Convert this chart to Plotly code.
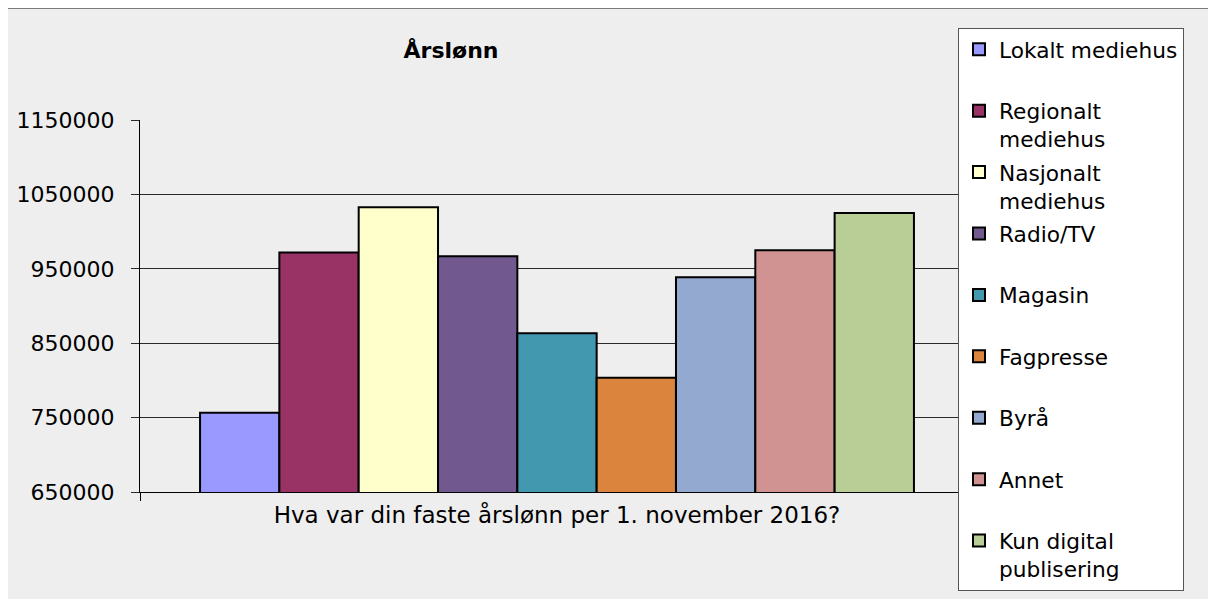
import plotly.graph_objects as go

question = "Hva var din faste årslønn per 1. november 2016?"
categories = ["Lokalt mediehus", "Regionalt<br>mediehus", "Nasjonalt<br>mediehus",
              "Radio/TV", "Magasin", "Fagpresse", "Byrå", "Annet",
              "Kun digital<br>publisering"]
values = [756600, 972000, 1032700, 966800, 863300, 803700, 938500, 974800, 1025000]
colors = ["#9999FF", "#993366", "#FFFFCC", "#71588F", "#4198AF", "#DB843D",
          "#93A9CF", "#D19392", "#B9CD96"]
y_ticks = [650000, 750000, 850000, 950000, 1050000, 1150000]

FONT = "DejaVu Sans"
OFF = 8  # page body margin
W, H = 1216 - OFF, 599 - OFF
L, R, T, B = 140 - OFF, 974 - OFF, 119.5 - OFF, 492 - OFF

def px(x):
    return (x - OFF - L) / (R - L)

def py(y):
    return (B - (y - OFF)) / (B - T)

fig = go.Figure()
for name, v, c in zip(categories, values, colors):
    label = name if "<br>" in name else name + "<br>&nbsp;"
    fig.add_trace(go.Bar(
        x=[question], y=[v], name=label, legendgroup=name,
        marker=dict(color=c, line=dict(color="#000000", width=2)),
    ))

fig.update_layout(
    width=W, height=H,
    margin=dict(l=L, r=W - R, t=T, b=H - B, autoexpand=False),
    paper_bgcolor="#ffffff",
    plot_bgcolor="rgba(0,0,0,0)",
    barmode="group", bargap=0.144, bargroupgap=0,
    font=dict(family=FONT, size=21, color="#000000"),
    title=dict(text="Årslønn", x=px(451), xref="paper", xanchor="center",
               y=1 - (50 - OFF) / H, yref="container", yanchor="middle",
               font=dict(family=FONT, size=22, color="#000000", weight="bold")),
    showlegend=True,
    legend=dict(x=px(958), y=py(27), xanchor="left", yanchor="top",
                bgcolor="#ffffff", bordercolor="#555555", borderwidth=1,
                font=dict(family=FONT, size=21.7, color="#000000"),
                valign="top", traceorder="grouped", tracegroupgap=2,
                itemwidth=30, maxheight=700),
    shapes=[dict(type="rect", xref="paper", yref="paper",
                 x0=px(7), x1=px(1240), y0=py(620), y1=py(7),
                 fillcolor="#eeeeee", line=dict(color="#555555", width=2),
                 layer="below")],
)

fig.update_yaxes(range=[650000, 1150000], tickvals=y_ticks,
                 ticktext=[str(t) for t in y_ticks],
                 showgrid=True, gridcolor="#2a2a2a", gridwidth=1,
                 showline=True, linecolor="#000000", linewidth=1,
                 ticks="outside", ticklen=8, tickcolor="#2a2a2a",
                 ticklabelstandoff=12, zeroline=False,
                 tickfont=dict(family=FONT, size=22, color="#000000"))
fig.update_xaxes(showgrid=False, showline=True, linecolor="#000000", linewidth=1,
                 ticks="outside", ticklen=8, tickcolor="#000000", tickson="boundaries",
                 ticklabelstandoff=2,
                 tickfont=dict(family=FONT, size=23, color="#000000"))

fig.write_html("out.html")
